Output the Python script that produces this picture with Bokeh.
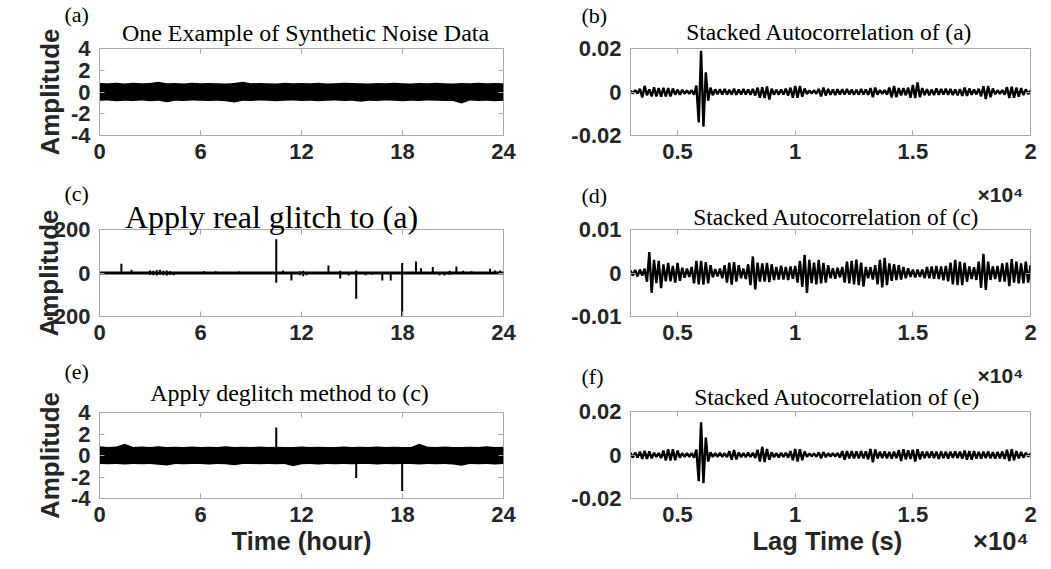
import numpy as np
from bokeh.plotting import figure
from bokeh.models import Range1d, FixedTicker, LinearAxis, Label
from bokeh.layouts import column, row
from bokeh.embed import file_html
from bokeh.resources import INLINE

# ---------------- data ----------------
hours = np.arange(0, 24.001, 0.5)          # envelope sampling of the noise traces (hour)

upper_a = [0.82,0.80,0.84,0.79,0.85,0.80,0.83,0.95,0.80,0.82,
           0.78,0.85,0.80,0.83,0.80,0.78,0.82,0.95,0.80,0.83,
           0.80,0.78,0.85,0.80,0.82,0.80,0.84,0.78,0.80,0.85,
           0.82,0.80,0.78,0.83,0.80,0.85,0.80,0.78,0.82,0.80,
           0.84,0.80,0.78,0.82,0.80,0.85,0.80,0.82,0.80]
lower_a = [-0.80,-0.78,-0.85,-0.80,-0.82,-0.78,-0.84,-0.80,-0.95,-0.80,
           -0.83,-0.78,-0.80,-0.82,-0.80,-0.85,-0.96,-0.80,-0.82,-0.78,
           -0.80,-0.84,-0.80,-0.78,-0.82,-0.80,-0.85,-0.80,-0.78,-0.82,
           -0.80,-0.90,-0.80,-0.82,-0.78,-0.80,-0.84,-0.80,-0.82,-0.78,
           -0.80,-0.83,-0.82,-1.05,-0.78,-0.82,-0.80,-0.84,-0.80]

glitch_t  = [1.3, 1.9, 3.0, 3.2, 3.4, 3.6, 3.8, 4.0, 4.2, 4.4, 6.2, 6.9, 8.3,
             10.5, 10.9, 11.4, 11.9, 12.1, 12.3, 12.7, 13.6, 14.3, 14.8, 15.25,
             15.8, 16.2, 16.8, 17.3, 17.98, 18.3, 18.8, 19.1, 19.8, 20.2, 20.5,
             20.8, 21.2, 21.6, 22.1, 22.6, 23.2, 23.5, 23.8]
glitch_lo = [0, 0, -8, -10, -12, -8, -10, -12, -8, -10, 0, 0, 0,
             -45, 0, -35, -10, -15, -10, -5, 0, -25, -12, -118,
             -10, -8, -35, -35, -200, -5, 0, 0, 0, -10, -12,
             -8, 0, -5, 0, 0, 0, 0, 0]
glitch_hi = [42, 15, 12, 10, 14, 15, 10, 12, 8, 5, 8, 8, 7,
             155, 12, 0, 8, 10, 5, 5, 35, 10, 0, 12,
             5, 5, 0, 0, 46, 5, 53, 22, 28, 5, 5,
             10, 30, 10, 8, 5, 20, 12, 12]

upper_e = [0.85,0.80,0.84,1.10,0.80,0.84,0.80,0.85,0.80,0.82,
           0.80,0.83,0.78,0.82,0.80,0.85,0.80,0.82,0.78,0.84,
           0.80,0.82,0.80,0.78,0.84,0.80,0.82,0.80,0.78,0.83,
           0.80,0.82,0.78,0.84,0.80,0.82,0.80,0.78,1.10,0.82,
           0.80,0.84,0.80,0.78,0.82,0.80,0.85,0.80,0.82]
lower_e = [-0.80,-0.82,-0.78,-0.84,-0.80,-0.82,-0.80,-0.85,-0.92,-0.80,
           -0.82,-0.78,-0.80,-0.84,-0.80,-0.82,-0.90,-0.80,-0.78,-0.82,
           -0.80,-0.82,-0.80,-1.00,-0.82,-0.78,-0.84,-0.80,-0.82,-0.80,
           -0.82,-0.80,-0.78,-0.84,-0.80,-0.82,-0.80,-0.78,-0.84,-0.80,
           -0.82,-0.80,-0.84,-0.95,-0.80,-0.82,-0.78,-0.84,-0.80]
resid_t  = [10.5, 15.25, 17.98]
resid_lo = [0.0, -2.1, -3.3]
resid_hi = [2.6, 0.0, 0.0]

lag = np.arange(3000, 20001, 100)   # lag time (s)
# stacked autocorrelations, units of 1e-3
acf_a = [0.6,-0.7,0.8,-0.7,1.5,-2.5,2.8,-1.5,1.2,-2.0,
         2.2,-2.0,1.8,-2.1,1.9,-2.0,1.8,-2.0,1.6,-1.2,
         1.0,-1.2,1.0,-0.8,0.7,-0.8,0.8,-1.2,3.0,-14.0,
         19.0,-16.0,9.0,-4.0,2.0,-1.5,1.2,-1.0,1.3,-1.2,
         1.4,-1.2,1.0,-1.2,1.5,-1.3,1.1,-1.2,1.4,-1.2,
         1.2,-1.3,1.4,-1.6,2.0,-2.6,2.2,-2.8,2.5,-3.5,
         1.5,-1.2,1.0,-1.2,1.1,-1.2,1.5,-1.6,2.0,-2.6,
         2.8,-2.6,2.8,-2.2,1.6,-0.9,0.7,-0.7,0.8,-0.8,
         1.4,-2.0,2.0,-1.6,1.4,-1.3,1.2,-1.4,1.3,-1.1,
         1.3,-1.2,1.4,-1.1,1.2,-1.3,1.0,-1.2,1.4,-1.2,
         1.1,-1.3,1.8,-2.4,2.0,-1.2,0.9,-0.8,0.9,-1.2,
         2.0,-2.5,2.8,-2.4,1.8,-1.5,1.8,-1.5,2.0,-2.6,
         3.2,-2.8,4.4,-2.4,1.8,-1.4,1.3,-1.5,1.2,-1.4,
         1.6,-1.3,1.4,-1.2,1.5,-1.3,1.4,-1.4,1.2,-1.5,
         1.3,-1.8,2.0,-1.8,1.6,-1.3,1.2,-1.1,1.5,-2.0,
         2.6,-3.2,2.8,-2.4,1.6,-1.0,0.8,-0.8,0.9,-1.2,
         2.2,-2.8,2.4,-2.6,2.0,-2.2,1.8,-1.4,1.2,-0.9,
         0.6]
acf_c = [0.6,-0.6,0.7,-0.8,0.8,-0.6,1.0,-2.0,4.8,-4.6,
         3.0,-2.3,2.8,-3.5,2.0,-1.9,2.3,-1.9,1.6,-2.2,
         2.3,-1.8,1.2,-1.1,1.0,-0.9,1.4,-2.4,2.8,-2.6,
         2.8,-2.7,2.5,-2.4,1.8,-1.0,0.9,-0.8,1.0,-1.2,
         1.8,-2.2,2.4,-2.7,2.5,-2.0,1.8,-1.2,1.0,-1.4,
         2.0,-2.8,3.8,-3.8,2.4,-2.0,2.2,-2.0,2.3,-2.1,
         2.0,-1.6,1.4,-1.5,1.7,-1.5,1.4,-1.6,1.5,-1.3,
         1.6,-2.2,2.8,-3.2,4.2,-4.6,3.0,-2.3,2.4,-2.6,
         3.0,-2.4,2.3,-2.2,1.8,-1.2,1.1,-1.3,1.2,-1.0,
         1.4,-2.2,2.6,-2.4,2.8,-2.6,3.1,-2.8,2.4,-3.1,
         1.4,-1.2,1.3,-1.5,1.8,-2.6,3.0,-3.3,3.5,-2.8,
         2.2,-1.8,2.0,-1.6,1.8,-1.5,1.4,-1.2,1.1,-0.9,
         0.8,-1.0,0.8,-0.9,0.8,-1.2,1.4,-1.2,1.5,-1.3,
         1.6,-1.4,1.5,-1.7,1.6,-1.9,2.4,-2.6,3.0,-2.8,
         2.6,-2.8,2.4,-2.0,1.5,-1.4,1.3,-1.6,2.6,-3.4,
         4.4,-3.9,2.6,-1.6,1.5,-1.4,1.6,-2.0,2.2,-2.0,
         2.4,-3.0,3.2,-2.2,2.6,-2.4,2.2,-2.4,2.6,-2.2,
         1.8]
acf_e = [1.0,-1.2,1.1,-1.2,1.5,-1.8,1.9,-1.8,1.7,-1.5,
         1.0,-0.9,0.9,-1.4,2.0,-2.5,2.6,-2.5,2.7,-2.4,
         2.0,-1.2,0.9,-0.8,0.9,-0.8,0.9,-1.2,2.5,-12.0,
         15.0,-13.0,8.0,-3.0,1.2,-0.9,0.8,-0.9,1.0,-0.9,
         0.8,-1.0,1.8,-2.2,2.3,-2.0,1.2,-1.0,0.9,-1.0,
         1.1,-0.9,1.0,-1.4,2.4,-3.0,3.8,-3.2,2.8,-2.2,
         1.2,-1.0,0.9,-1.1,1.0,-0.9,1.0,-1.2,1.8,-2.4,
         2.8,-3.0,2.7,-2.4,1.6,-0.8,0.7,-0.6,0.7,-0.8,
         1.2,-1.5,1.4,-1.0,0.8,-0.7,0.8,-0.7,0.9,-1.2,
         1.8,-2.2,1.8,-1.6,1.8,-1.5,1.7,-1.6,1.8,-1.5,
         1.7,-2.0,2.8,-3.4,2.6,-1.6,1.5,-1.4,1.6,-1.5,
         1.4,-1.6,1.5,-1.4,2.2,-2.8,2.6,-2.0,2.2,-1.8,
         2.4,-3.0,2.6,-2.0,1.6,-1.4,1.5,-1.3,1.6,-1.4,
         1.5,-1.8,1.6,-1.4,1.5,-1.7,1.5,-1.3,1.6,-1.4,
         1.5,-1.7,2.0,-2.2,1.8,-2.1,1.8,-1.6,1.4,-1.6,
         1.5,-1.4,1.6,-1.5,1.3,-1.6,1.4,-1.5,1.6,-1.8,
         2.4,-2.8,2.6,-2.4,1.8,-1.5,1.4,-1.2,1.0,-0.8,
         0.6]

time_ticks = [0, 6, 12, 18, 24]
lag_ticks = [5000, 10000, 15000, 20000]
lag_labels = {5000: "0.5", 10000: "1", 15000: "1.5", 20000: "2"}

titles = ["One Example of Synthetic Noise Data", "Stacked Autocorrelation of (a)",
          "Apply real glitch to (a)", "Stacked Autocorrelation of (c)",
          "Apply deglitch method to (c)", "Stacked Autocorrelation of (e)"]
tags = ["(a)", "(b)", "(c)", "(d)", "(e)", "(f)"]
exponent = "\u00d710\u2074"

# ---------------- style ----------------
SANS = "Liberation Sans"
SERIF = "Liberation Serif"
BOX = "#a8a8a8"
INK = "#262626"
NB = "\u00a0"


def style_axis(ax, ticks, overrides, standoff):
    ax.ticker = FixedTicker(ticks=ticks)
    ax.major_label_overrides = overrides
    ax.axis_line_color = BOX
    ax.major_tick_line_color = BOX
    ax.major_tick_in = 5
    ax.major_tick_out = 0
    ax.minor_tick_line_color = None
    ax.major_label_text_font = SANS
    ax.major_label_text_font_style = "bold"
    ax.major_label_text_font_size = "22px"
    ax.major_label_text_color = INK
    ax.major_label_standoff = standoff
    ax.axis_label_text_font = SANS
    ax.axis_label_text_font_style = "bold"
    ax.axis_label_text_color = INK


def mirror_axis(ticks):
    return LinearAxis(ticker=FixedTicker(ticks=ticks), major_label_overrides={v: "" for v in ticks},
                      axis_line_color=None, major_tick_line_color=BOX, major_tick_in=5,
                      major_tick_out=0, minor_tick_line_color=None, major_label_standoff=0)


def panel(width, height, left, right, top, bottom, xr, yr, xt, yt, xlab, ylab):
    p = figure(width=width, height=height, x_range=Range1d(*xr), y_range=Range1d(*yr),
               output_backend="svg", toolbar_location=None,
               min_border_left=left, min_border_right=right,
               min_border_top=top, min_border_bottom=bottom)
    p.xgrid.visible = False
    p.ygrid.visible = False
    p.outline_line_color = BOX
    p.border_fill_color = "white"
    p.background_fill_color = "white"
    xa, ya = p.xaxis[0], p.yaxis[0]
    style_axis(xa, xt, xlab, 8)
    style_axis(ya, yt, ylab, 9)
    p.add_layout(mirror_axis(yt), "right")
    p.add_layout(mirror_axis(xt), "above")
    return p, xa, ya


def label(p, side, x, y, text, font=SERIF, size="22px", style="normal", align="left"):
    p.add_layout(Label(x=x, y=y, x_units="screen", y_units="screen", text=text,
                       text_font=font, text_font_size=size, text_font_style=style,
                       text_color="black" if font == SERIF else INK,
                       text_align=align, text_baseline="alphabetic"), side)


LW, RW = 540, 511
LL, LR = 99, 37
RL, RR = 90, 21
left_rows = [(181, 48, 46), (174, 48, 39), (214, 57, 71)]
right_rows = [(178, 48, 43), (182, 51, 44), (209, 51, 71)]
time_lab = {t: str(t) for t in time_ticks}

lefts, rights = [], []
for r in range(3):
    # ---- left: time series ----
    h, tb, bb = left_rows[r]
    if r == 1:
        yr, yt = (-200, 200), [-200, 0, 200]
        ylab = {-200: "-200", 0: "0", 200: "200"}
    else:
        yr, yt = (-4, 4), [-4, -2, 0, 2, 4]
        ylab = {-4: "-4", -2: "-2", 0: "0", 2: "2", 4: "4"}
    pl, xa, ya = panel(LW, h, LL, LR, tb, bb, (0, 24), yr, time_ticks, yt, time_lab, ylab)
    ya.axis_label = "Amplitude"
    ya.axis_label_text_font_size = "26px"
    ya.axis_label_standoff = -21 if r == 1 else 3
    if r == 0:
        pl.varea(x=hours, y1=lower_a, y2=upper_a, color="black")
    elif r == 1:
        pl.line(hours, upper_a, line_width=2.5, color="black")
        pl.line(hours, lower_a, line_width=2.5, color="black")
        pl.segment(x0=glitch_t, y0=glitch_lo, x1=glitch_t, y1=glitch_hi,
                   line_width=2, color="black")
    else:
        pl.varea(x=hours, y1=lower_e, y2=upper_e, color="black")
        pl.segment(x0=resid_t, y0=resid_lo, x1=resid_t, y1=resid_hi,
                   line_width=2, color="black")
        xa.axis_label = "Time (hour)"
        xa.axis_label_text_font_size = "25.5px"
        xa.axis_label_standoff = 2
    lefts.append(pl)

    # ---- right: autocorrelation ----
    h, tb, bb = right_rows[r]
    lim = 0.01 if r == 1 else 0.02
    pr, xa, ya = panel(RW, h, RL, RR, tb, bb, (3000, 20000), (-lim, lim), lag_ticks,
                       [-lim, 0, lim], lag_labels, {-lim: "-%g" % lim, 0: "0", lim: "%g" % lim})
    acf = [acf_a, acf_c, acf_e][r]
    pr.line(lag, np.array(acf) * 1e-3, line_width=2.4, color="black")
    if r == 2:
        xa.axis_label = NB * 17 + "Lag Time (s)" + NB * 10 + exponent
        xa.axis_label_text_font_size = "25.5px"
        xa.axis_label_standoff = 2
    rights.append(pr)

pa, pc, pe = lefts
pb, pd, pf = rights

# titles (above panels); y measured from the slot bottom
label(pa, "above", 206, 16, titles[0], size="24px", align="center")
label(pb, "above", 199, 17, titles[1], size="23.5px", align="center")
label(pc, "above", 172, 13, titles[2], size="32px", align="center")
label(pd, "above", 206, 13, titles[3], size="23.5px", align="center")
label(pd, "above", 347, 9, exponent, font=SANS, size="21px", style="bold")
label(pe, "above", 190, 20, titles[4], size="24px", align="center")
label(pf, "above", 207, 15, titles[5], size="23.5px", align="center")
label(pf, "above", 347, 10, exponent, font=SANS, size="21px", style="bold")

# panel tags (left panels, beyond the tick labels)
label(pa, "left", 57, 121, tags[0])
label(pc, "left", 57, 123, tags[2])
label(pe, "left", 57, 127, tags[4])
label(pb, "left", 39, 120, tags[1])
label(pd, "left", 39, 121, tags[3])
label(pf, "left", 35, 122, tags[5])

layout = row(column(pa, pc, pe), column(pb, pd, pf))
open("out.html", "w").write(file_html(layout, INLINE))
